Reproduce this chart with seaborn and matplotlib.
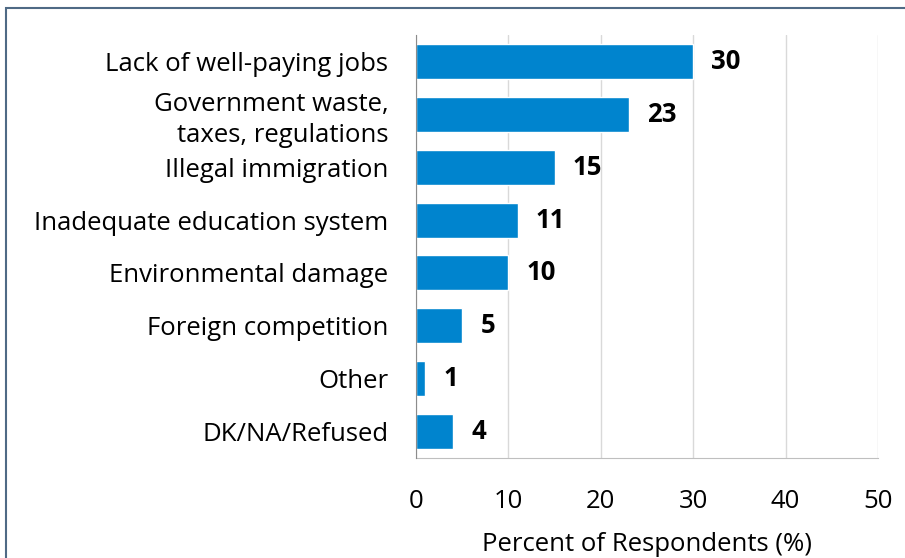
import matplotlib
matplotlib.use("Agg")
import matplotlib.pyplot as plt
import seaborn as sns
import pandas as pd
from matplotlib.patches import Rectangle

categories = ["Lack of well-paying jobs", "Government waste,\ntaxes, regulations",
              "Illegal immigration", "Inadequate education system",
              "Environmental damage", "Foreign competition", "Other", "DK/NA/Refused"]
values = [30, 23, 15, 11, 10, 5, 1, 4]
xticks = [0, 10, 20, 30, 40, 50]

sns.set_style("white")
plt.rcParams["font.family"] = ["Open Sans", "DejaVu Sans"]
plt.rcParams["text.color"] = "black"
plt.rcParams["xtick.color"] = "black"
plt.rcParams["ytick.color"] = "black"
plt.rcParams["axes.labelcolor"] = "black"

df = pd.DataFrame({"cat": categories, "val": values})

fig = plt.figure(figsize=(9.05, 5.58), dpi=100)
ax = fig.add_axes([416/905, 1-458/558, (878-416)/905, (458-35)/558])
sns.barplot(data=df, x="val", y="cat", orient="h", color="#0084CE",
            saturation=1, width=0.66, ax=ax, zorder=3)
ax.set_xlim(0, 50)
ax.set_ylim(7.5, -0.5)
ax.set_xticks(xticks)
ax.set_xticklabels([str(t) for t in xticks], fontsize=18.5)
ax.tick_params(axis="x", length=0, pad=22)
ax.tick_params(axis="y", length=0, pad=20, labelsize=18.5)
for lab in ax.get_yticklabels():
    lab.set_horizontalalignment("right")
    lab.set_linespacing(1.3)
ax.set_ylabel("")
ax.set_xlabel("Percent of Respondents (%)", fontsize=18.5, labelpad=13)
ax.grid(axis="x", color="#d9d9d9", lw=1, zorder=0)
for s in ["top", "right"]:
    ax.spines[s].set_visible(False)
ax.spines["left"].set_color("#8c8c8c")
ax.spines["bottom"].set_color("#bfbfbf")
ax.spines["left"].set_zorder(4)

for i, v in enumerate(values):
    ax.annotate(str(v), (v, i), xytext=(13, 0), textcoords="offset points",
                va="center", ha="left", fontsize=18.5, fontweight="bold")

fig.patches.append(Rectangle((6/905, -0.1), 1.2, 1.1 - 8/558,
                             transform=fig.transFigure, fill=False,
                             edgecolor="#4F6A85", lw=1.5, clip_on=False))
fig.savefig("out.png", dpi=100)
